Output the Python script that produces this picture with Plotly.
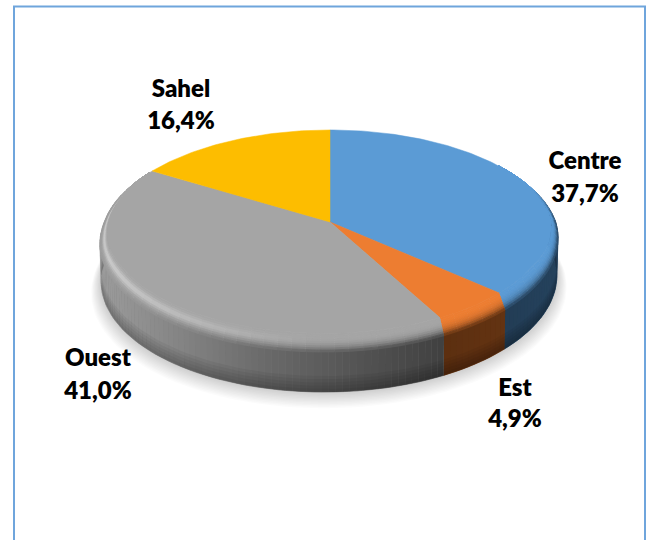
import numpy as np
import plotly.graph_objects as go

# ---- data ----
regions = ["Centre", "Est", "Ouest", "Sahel"]
shares = [37.7, 4.9, 41.0, 16.4]
top_colors = ["#5B9BD5", "#ED7D31", "#A5A5A5", "#FDBD00"]

# ---- styling / view ----
FRAME = "#6FA5DC"
CX, CY = 330.0, 222.0          # projected pie centre
A, B, P = 225.6, 107.8, -0.171  # perspective of the disc
SHEAR = -6.0
label_anchor = {"Centre": (585, 161), "Est": (515, 388), "Ouest": (98, 358), "Sahel": (181, 89)}
line_gap = {"Centre": 33, "Est": 31, "Ouest": 33, "Sahel": 32}

WALL_STOPS = {
    "Centre": ([500, 558], ["#223c54", "#25425d"]),
    "Est": ([440, 505], ["#5c2f10", "#633312"]),
    "Ouest": ([100, 180, 260, 330, 400, 445], ["#9c9c9c", "#848484", "#6b6b6b", "#5a5a5a", "#4a4a4a", "#404040"]),
    "Sahel": ([100, 200], ["#9c7a00", "#9c7a00"]),
}


def h2rgb(h):
    return np.array([int(h[i:i + 2], 16) for i in (1, 3, 5)], float)


def css(c):
    c = np.clip(c, 0, 255)
    return "rgb(%d,%d,%d)" % tuple(int(round(v)) for v in c)


def wall_color(name, x):
    xs, cols = WALL_STOPS[name]
    arr = np.array([h2rgb(c) for c in cols])
    return np.array([np.interp(x, xs, arr[:, i]) for i in range(3)])


def disc(r, th):
    """Project a point of the unit disc (clockwise angle from 12 o'clock)."""
    u, v = r * np.sin(th), -r * np.cos(th)
    den = 1 + P * v
    return CX + A * u / den + SHEAR * np.maximum(v, 0), CY + B * v / den


def bottom(r, th):
    x, y = disc(r, th)
    v = -np.cos(th)
    return x - 1.2 * np.sin(th), y + 37 + 3 * v


fig = go.Figure()


def poly(xs, ys, color, lw=1.0):
    fig.add_trace(go.Scatter(x=list(xs), y=list(ys), mode="lines", fill="toself",
                             fillcolor=color, line=dict(color=color, width=lw),
                             hoverinfo="skip", showlegend=False))


# slice angles derived from the shares
fr = np.cumsum([0] + shares) / sum(shares) * 2 * np.pi
starts, ends = fr[:-1], fr[1:]

# soft floor shadow
circle = np.linspace(0, 2 * np.pi, 160)
for k in range(12, 0, -1):
    r = 1 + 0.0035 * k
    x, y = bottom(r, circle)
    poly(x, y + 0.8 * k, "rgba(0,0,0,0.016)", 0)

# side walls: opaque underlay, fine columns, then darker bands towards the floor
WALL_MIN, WALL_MAX = np.radians(72), np.radians(285)
for name, s, e in zip(regions, starts, ends):
    a, b = max(s, WALL_MIN), min(e, WALL_MAX)
    if b <= a:
        continue
    n = max(2, int(np.degrees(b - a) / 1.5))
    th = np.linspace(a, b, n + 1)
    xt, yt = disc(1, th)
    xb, yb = bottom(1, th)
    poly(list(xt) + list(xb[::-1]), list(yt) + list(yb[::-1]), css(wall_color(name, xt.mean())), 0.5)
    for i in range(n):
        base = wall_color(name, (xt[i] + xt[i + 1]) / 2)
        poly([xt[i], xt[i + 1], xb[i + 1], xb[i]], [yt[i] - 0.5, yt[i + 1] - 0.5, yb[i + 1], yb[i]], css(base), 0.4)

band_th = np.linspace(WALL_MIN, WALL_MAX, 120)
xt, yt = disc(1, band_th)
xb, yb = bottom(1, band_th)
for f in (0.6, 0.68, 0.76, 0.84, 0.92):
    xu, yu = xt + (xb - xt) * f, yt + (yb - yt) * f
    poly(list(xu) + list(xb[::-1]), list(yu) + list(yb[::-1]), "rgba(0,0,0,0.05)", 0)

# rounded bevel on the front rim
BEVEL = 9


def bevel_ring(t, th):
    v = -np.cos(th)
    lift = np.clip((v + 0.2) / 0.7, 0, 1)
    inset = np.clip((v + 0.35) / 0.5, 0, 1)
    x, y = disc(1 - 0.03 * inset * (1 - t), th)
    return x, y - 14 * (1 - t) * lift


# top faces stop at the inner edge of the bevel
for name, col, s, e in zip(regions, top_colors, starts, ends):
    th = np.linspace(s, e, max(8, int(np.degrees(e - s))))
    x, y = bevel_ring(0, th)
    poly([CX] + list(x) + [CX], [CY] + list(y) + [CY], col, 0.5)

for name, col, s, e in zip(regions, top_colors, starts, ends):
    a, b = max(s, np.radians(55)), min(e, np.radians(300))
    if b <= a:
        continue
    n = max(2, int(np.degrees(b - a) / 3))
    th = np.linspace(a, b, n + 1)
    base = h2rgb(col)
    for i in range(n):
        t0, t1 = th[i], th[i + 1]
        tm = (t0 + t1) / 2
        v, u = -np.cos(tm), np.sin(tm)
        w = np.clip((v + 0.35) / 0.4, 0, 1)
        w = w * w * (3 - 2 * w)
        for k in range(BEVEL):
            g0, g1 = k / BEVEL, (k + 1) / BEVEL
            x00, y00 = bevel_ring(g0, t0)
            x01, y01 = bevel_ring(g0, t1)
            x10, y10 = bevel_ring(g1, t0)
            x11, y11 = bevel_ring(g1, t1)
            gm = (g0 + g1) / 2
            edge = wall_color(name, (x10 + x11) / 2)
            c = base + (edge - base) * w * gm ** 3.2
            if name == "Ouest":
                hi = 0.42 * np.clip(-u * 1.1, 0.05, 1) * np.exp(-((gm - 0.45) / 0.22) ** 2) * w
                c = c + (255 - c) * hi
            poly([x00, x01, x11, x10], [y00, y01, y11, y10], css(c), 0.8)

# labels
lx, ly, lt = [], [], []
for name, val in zip(regions, shares):
    ax, ay = label_anchor[name]
    lx += [ax, ax]
    ly += [ay + 2, ay + 2 + line_gap[name]]
    lt += [name, f"{val:.1f}".replace(".", ",") + "%"]
fig.add_trace(go.Scatter(x=lx, y=ly, text=lt, mode="text", textposition="middle center",
                         textfont=dict(family="Lato, 'Open Sans', sans-serif", size=24, color="#000000", weight=800),
                         hoverinfo="skip", showlegend=False))

fig.update_layout(
    width=652, height=540, margin=dict(l=0, r=0, t=0, b=0),
    paper_bgcolor="white", plot_bgcolor="white", showlegend=False,
    xaxis=dict(range=[0, 652], visible=False, fixedrange=True),
    yaxis=dict(range=[540, 0], visible=False, fixedrange=True),
    shapes=[dict(type="rect", xref="x", yref="y", x0=14, y0=6.5, x1=645, y1=560,
                 line=dict(color=FRAME, width=2), layer="below")],
)
fig.write_html("out.html", config=dict(displayModeBar=False),
               post_script="document.body.style.margin='0';document.documentElement.style.overflow='hidden';")
